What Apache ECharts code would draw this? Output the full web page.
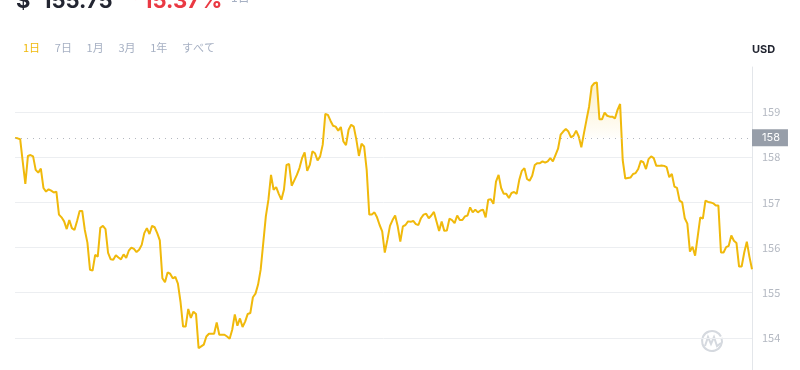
<!DOCTYPE html>
<html>
<head>
<meta charset="utf-8">
<script src="https://cdn.jsdelivr.net/npm/echarts@6/dist/echarts.min.js"></script>
<style>
html,body{margin:0;padding:0;background:#fff;}
#c{width:800px;height:370px;}
</style>
</head>
<body>
<div id="c"></div>
<script>
// ---- data ----
const prices = [
158.43,158.42,158.40,157.90,157.41,158.03,158.05,158.02,157.72,157.66,
157.75,157.32,157.24,157.29,157.26,157.22,157.24,156.73,156.67,156.58,
156.41,156.61,156.43,156.39,156.59,156.81,156.81,156.39,156.11,155.51,
155.49,155.84,155.80,156.44,156.48,156.41,155.88,155.74,155.73,155.83,
155.78,155.74,155.85,155.77,155.93,156.00,155.97,155.90,155.95,156.06,
156.32,156.43,156.30,156.48,156.45,156.32,156.16,155.32,155.23,155.45,
155.42,155.32,155.35,155.20,154.80,154.25,154.25,154.64,154.44,154.58,
154.53,153.77,153.81,153.85,154.03,154.09,154.09,154.09,154.34,154.07,
154.07,154.07,154.03,153.98,154.18,154.52,154.27,154.43,154.24,154.36,
154.53,154.55,154.90,154.98,155.18,155.51,156.10,156.69,157.06,157.61,
157.28,157.34,157.19,157.06,157.28,157.83,157.85,157.37,157.49,157.61,
157.76,157.98,158.11,157.70,157.83,158.13,158.09,157.93,158.02,158.28,
158.96,158.94,158.81,158.70,158.68,158.59,158.67,158.35,158.27,158.61,
158.72,158.68,158.39,158.03,158.30,158.24,157.72,156.73,156.73,156.78,
156.67,156.50,156.36,155.89,156.17,156.48,156.61,156.71,156.47,156.13,
156.47,156.50,156.58,156.57,156.59,156.52,156.50,156.65,156.73,156.75,
156.65,156.71,156.79,156.58,156.37,156.58,156.37,156.38,156.64,156.61,
156.54,156.71,156.61,156.61,156.69,156.71,156.89,156.78,156.84,156.78,
156.82,156.84,156.67,157.06,157.07,156.97,157.46,157.61,157.32,157.19,
157.19,157.10,157.21,157.23,157.19,157.50,157.70,157.76,157.52,157.48,
157.59,157.83,157.87,157.87,157.91,157.88,157.91,157.98,157.91,158.05,
158.19,158.50,158.57,158.63,158.57,158.44,158.48,158.59,158.46,158.22,
158.53,158.83,159.12,159.57,159.64,159.66,158.84,158.84,158.99,158.92,
158.90,158.90,158.86,159.05,159.18,157.94,157.53,157.54,157.55,157.63,
157.65,157.74,157.92,157.89,157.74,157.96,158.02,157.98,157.81,157.81,
157.82,157.81,157.78,157.56,157.63,157.35,157.32,157.04,157.00,156.65,
156.53,155.91,156.02,155.82,156.24,156.67,156.64,157.04,157.01,157.00,
156.98,156.93,156.93,155.89,155.89,156.01,156.04,156.27,156.15,156.10,
155.58,155.58,155.89,156.13,155.80,155.52
];
const openPrice = 158.43;
const openLabel = '158';
const yTicks = [154, 155, 156, 157, 158, 159];
const currency = 'USD';
const headSymbol = '$';
const headPrice = '155.75';
const headChange = '15.37%';
const headPeriod = '1日';
const periods = ['1日', '7日', '1月', '3月', '1年', 'すべて'];

// ---- derived ----
const cats = prices.map((_, i) => i);
const baseLine = prices.map(() => openPrice);
const aboveDiff = prices.map(v => Math.max(v, openPrice) - openPrice);

const LINE = '#f0b90b';
const FONT = '"Noto Sans CJK JP", Inter, "Noto Sans", sans-serif';
const HEAD = 'bold 22px Inter, "Noto Sans", sans-serif';

const chart = echarts.init(document.getElementById('c'), null, {renderer: 'canvas'});

const graphics = [
  {type: 'text', left: 16, top: -10, style: {text: headSymbol, font: HEAD, fill: '#222531'}},
  {type: 'text', left: 42, top: -10, style: {text: headPrice, font: HEAD, fill: '#222531'}},
  {type: 'text', left: 131, top: -8, style: {text: '▼', font: '10px "Noto Sans", sans-serif', fill: '#ea3943'}},
  {type: 'text', left: 143, top: -10, style: {text: headChange, font: HEAD, fill: '#ea3943'}},
  {type: 'text', left: 231, top: -9, style: {text: headPeriod, font: '12px ' + FONT, fill: '#a6b0c3'}},
  {type: 'arc', shape: {cx: 712, cy: 341, r: 10, startAngle: -Math.PI * 0.1, endAngle: Math.PI * 1.85}, style: {stroke: '#d5d9df', lineWidth: 2, fill: null}, silent: true},
  {type: 'polyline', shape: {points: [[705, 346], [708, 337], [711, 344], [714, 337], [717, 346], [721, 343]]}, style: {stroke: '#d5d9df', lineWidth: 2, fill: null}, silent: true}
];
periods.forEach((p, i) => {
  graphics.push({type: 'text', left: 23 + i * 31.8, top: 42,
    style: {text: p, font: '11px ' + FONT, fill: i === 0 ? '#f0b90b' : '#a6b0c3'}});
});

chart.setOption({
  animation: false,
  backgroundColor: '#ffffff',
  textStyle: {fontFamily: FONT},
  grid: {left: 15, right: 48, top: 67, bottom: -13, containLabel: false, outerBoundsMode: 'none'},
  xAxis: {
    type: 'category', data: cats, boundaryGap: false, show: false
  },
  yAxis: {
    type: 'value', position: 'right', min: 153, max: 160, interval: 1,
    name: currency, nameLocation: 'end', nameGap: 12,
    nameTextStyle: {color: '#222531', fontSize: 11, fontWeight: 'bold', align: 'left', fontFamily: 'Inter, "Noto Sans", sans-serif'},
    axisLine: {show: true, lineStyle: {color: '#e3e6ea', width: 1}},
    axisTick: {show: false},
    axisLabel: {
      color: '#b4b9c2', fontSize: 11, margin: 10,
      formatter: v => yTicks.indexOf(v) >= 0 ? String(v) : ''
    },
    splitLine: {show: true, showMaxLine: false, lineStyle: {color: '#eceef1', width: 1}}
  },
  graphic: graphics,
  series: [
    {
      type: 'line', data: baseLine, stack: 'fill', symbol: 'none', silent: true,
      lineStyle: {opacity: 0}, z: 1
    },
    {
      type: 'line', data: aboveDiff, stack: 'fill', symbol: 'none', silent: true,
      lineStyle: {opacity: 0}, z: 1,
      areaStyle: {
        color: new echarts.graphic.LinearGradient(0, 0, 0, 1, [
          {offset: 0, color: 'rgba(240,185,11,0.32)'},
          {offset: 1, color: 'rgba(240,185,11,0.02)'}
        ])
      }
    },
    {
      type: 'line', data: prices, symbol: 'none', z: 3,
      lineStyle: {color: LINE, width: 2},
      markLine: {
        silent: true, symbol: ['none', 'none'],
        lineStyle: {type: [1, 5], color: '#b3b8c0', width: 1},
        label: {
          show: true, position: 'end', distance: 0, formatter: openLabel,
          backgroundColor: '#979ea9', color: '#ffffff', fontSize: 11,
          padding: [3, 8, 3, 10], fontFamily: 'Inter, "Noto Sans", sans-serif'
        },
        data: [{yAxis: openPrice}]
      }
    }
  ]
});
</script>
</body>
</html>
